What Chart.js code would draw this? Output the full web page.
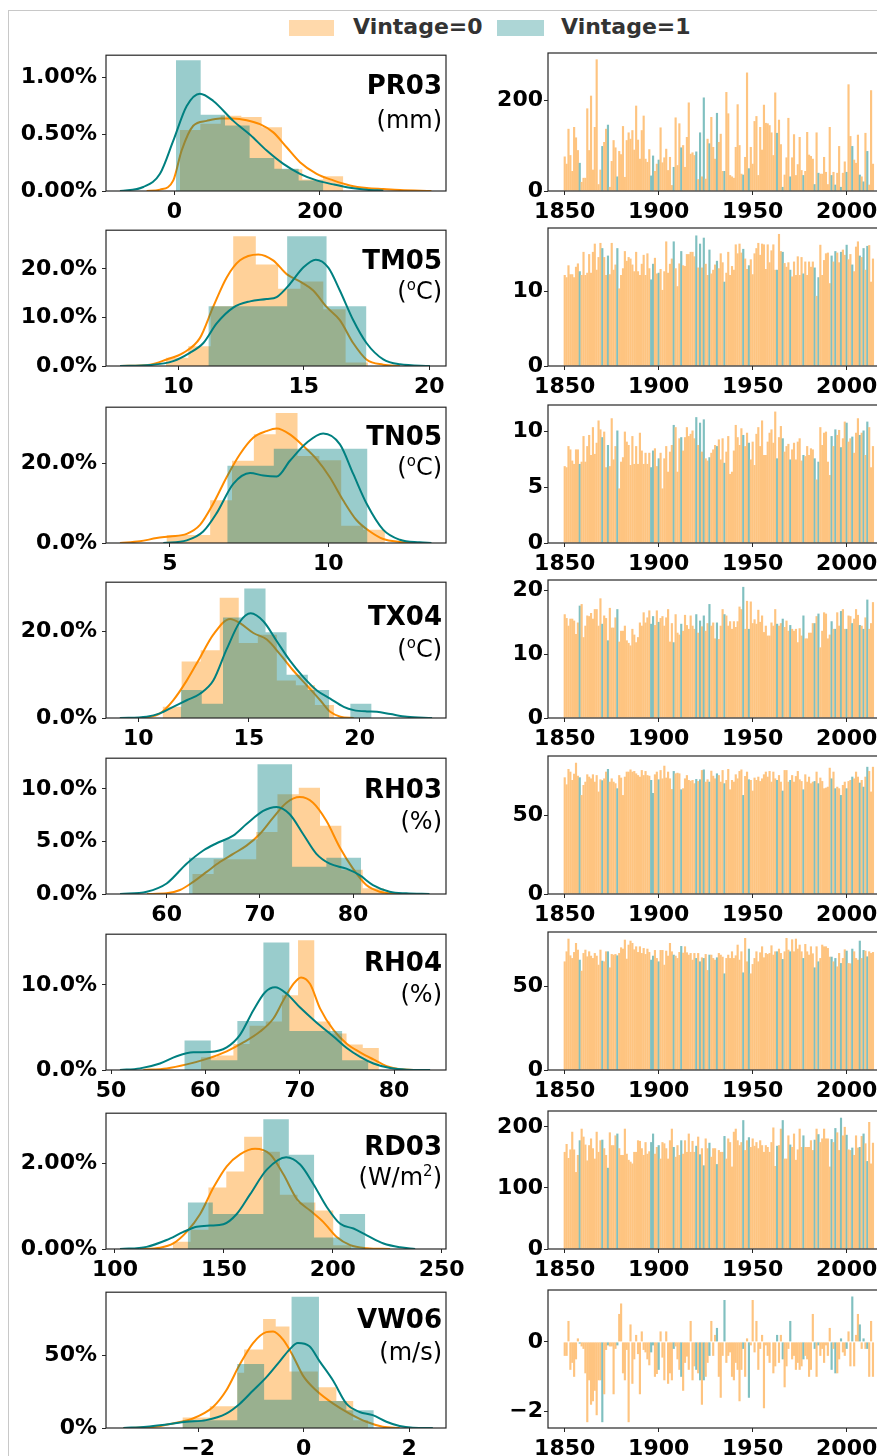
<!DOCTYPE html>
<html><head><meta charset="utf-8">
<script src="https://cdn.jsdelivr.net/npm/chart.js@4.4.0/dist/chart.umd.min.js"></script>
<style>
html,body{margin:0;padding:0;background:#fff;overflow:hidden;}
body{width:877px;height:1456px;position:relative;font-family:'DejaVu Sans',sans-serif;}
canvas{position:absolute;}
.frame{position:absolute;left:8px;top:10px;width:1100px;height:1700px;border:1px solid #c8c8c8;}
.lgp{position:absolute;height:16px;}
.lgt{position:absolute;font-size:22px;line-height:22px;font-weight:bold;color:#333;white-space:nowrap;}
.ttl{position:absolute;left:142px;width:300px;text-align:right;white-space:nowrap;color:#000;font-weight:bold;font-size:26px;line-height:26px;}
.unt{position:absolute;left:142px;width:300px;text-align:right;white-space:nowrap;color:#000;font-size:24px;line-height:24px;}
.unt sup{font-size:15px;line-height:0;vertical-align:9px;}
</style></head><body>
<div class="frame"></div>
<div class="lgp" style="left:289px;top:20px;width:45px;background:rgba(255,140,0,0.33)"></div>
<div class="lgt" style="left:353px;top:16px">Vintage=0</div>
<div class="lgp" style="left:497px;top:20px;width:47px;background:rgba(0,128,128,0.32)"></div>
<div class="lgt" style="left:561px;top:16px">Vintage=1</div>
<script>
// ---------------- DATA ----------------
const NAMES = ['PR03','TM05','TN05','TX04','RH03','RH04','RD03','VW06'];
const UNITS = ['(mm)','(<sup>o</sup>C)','(<sup>o</sup>C)','(<sup>o</sup>C)','(%)','(%)','(W/m<sup>2</sup>)','(m/s)'];
const YEAR0 = 1850; // first year of the time series (1850-2014)
const VINTAGE1_YEARS = [1858,1870,1873,1878,1896,1897,1900,1908,1912,1920,1922,1924,1927,1931,1935,1945,1948,1963,1966,1970,1977,1983,1985,1992,1994,1997,2000,2003,2007,2009,2011];

const TS_PR03 = [76,60,137,79,44,141,118,90,62,20, 29,29,182,90,210,47,141,290,15,47, 99,108,137,146,9,66,112,96,32,88, 81,143,31,112,129,115,134,91,188,113, 71,134,166,71,64,92,34,78,44,60, 69,140,63,74,93,46,75,13,53,162, 57,149,96,101,53,119,195,82,85,79, 87,26,129,32,206,27,115,105,163,97, 71,172,108,126,44,44,218,171,35,32, 29,97,191,101,38,36,75,261,50,97, 60,154,165,35,141,91,190,150,149,145, 129,79,217,128,157,103,9,36,74,161, 32,74,125,35,59,119,46,35,44,130, 80,77,71,15,129,40,38,38,75,42, 15,141,35,42,14,40,99,9,40,65, 42,235,121,99,69,62,124,36,32,21, 128,88,14,222,60];
const TS_TM05 = [12.2,11.9,13.5,12.3,12.3,11.9,13.3,13.75,12.7,12.2, 15.3,12.2,12.5,15.0,12.5,15.3,16.4,12.9,14.6,16.5, 15.8,14.6,12.2,14.8,12.3,16.5,12.9,13.6,15.8,10.4, 12.2,13.1,15.4,14.1,14.6,14.4,13.6,12.7,15.3,12.7, 12.2,13.7,14.9,12.2,15.1,13.1,11.6,13.7,14.5,12.4, 12.5,13.0,10.2,12.7,16.7,12.5,13.7,14.4,16.7,13.1, 10.7,13.75,15.4,13.5,13.4,15.0,15.0,15.3,15.3,14.7, 17.5,13.2,16.4,13.2,17.2,13.7,12.2,15.6,12.4,12.9, 13.6,14.1,13.1,15.1,13.9,11.3,12.5,15.3,12.2,13.4, 12.9,16.3,15.1,16.4,15.2,15.7,14.4,13.0,13.5,14.3, 12.3,15.1,15.8,16.5,14.9,16.4,16.3,13.0,16.3,13.9, 15.5,16.3,12.9,12.9,17.7,15.4,15.3,13.8,13.3,13.9, 12.9,12.0,14.0,12.2,14.7,12.2,14.6,12.4,14.0,12.2, 14.0,13.3,14.0,13.2,9.4,11.9,16.25,12.2,14.2,15.1, 15.2,11.1,14.8,14.0,15.4,15.2,13.9,15.3,15.6,14.9, 16.25,14.3,15.0,13.6,12.7,16.0,16.7,14.8,14.6,15.8, 12.9,16.1,16.2,11.3,14.4];
const TS_TN05 = [6.9,6.8,8.7,8.4,7.4,7.1,8.4,8.4,7.1,7.3, 9.6,7.3,8.7,9.7,7.9,10.4,8.0,9.0,11.0,10.2, 9.5,10.0,6.8,8.8,6.9,11.2,7.5,8.7,10.1,4.9, 7.3,7.7,10.0,9.1,8.8,7.0,9.6,7.1,8.7,7.1, 9.9,8.3,7.1,8.1,7.1,8.1,6.8,8.3,8.5,6.9, 7.6,8.1,4.9,7.6,8.7,6.4,8.2,8.8,10.6,10.4, 6.4,9.4,9.5,8.3,9.5,10.4,9.6,9.8,10.1,9.4, 11.3,8.8,10.8,8.2,11.1,7.6,7.4,7.7,8.1,8.4, 8.8,8.7,9.3,7.5,9.4,7.2,8.2,9.6,6.2,6.4, 8.3,10.6,9.5,8.8,10.3,9.7,8.7,9.9,9.0,7.5, 9.1,7.0,9.8,10.4,8.7,11.0,7.9,7.9,9.1,9.9, 10.2,9.0,11.8,7.6,9.5,10.5,9.4,8.2,8.7,8.9, 7.5,8.4,9.0,7.5,9.1,9.4,7.4,7.9,7.8,8.7, 7.9,8.5,8.4,7.6,5.7,7.3,10.4,8.8,9.9,10.0, 7.3,6.1,9.6,8.7,10.2,9.7,10.15,8.6,9.4,10.9, 10.8,9.1,9.4,9.55,8.1,9.9,11.2,9.7,9.9,10.1, 7.9,10.9,10.4,6.8,8.7];
const TS_TX04 = [16.3,15.7,14.5,15.6,15.6,15.3,13.2,15.0,17.65,17.9, 12.7,14.5,16.1,16.0,16.5,15.6,17.1,17.1,14.5,18.8, 14.8,16.1,15.7,12.2,17.3,14.2,14.2,15.8,17.1,12.0, 13.7,13.7,14.5,12.2,11.8,11.4,14.0,13.1,11.9,12.7, 15.0,14.5,16.6,15.0,15.8,16.9,14.8,16.0,14.6,16.9, 15.1,15.7,16.0,14.5,15.8,17.1,12.0,14.9,11.9,16.3, 13.4,13.1,14.8,13.7,16.2,14.6,14.0,16.1,14.5,14.0, 16.3,13.4,15.3,14.4,16.1,13.7,14.9,17.9,14.5,15.0, 12.5,15.0,12.4,14.5,17.1,16.3,16.1,14.5,15.2,14.0, 15.2,14.3,15.2,17.5,17.1,20.6,14.0,18.4,14.0,18.3, 14.9,15.5,14.8,17.0,15.1,16.1,13.5,14.5,12.95,12.95, 15.0,14.5,17.1,14.8,14.5,14.9,15.6,14.3,15.3,13.7, 14.6,14.0,13.7,14.0,11.9,14.1,12.95,16.1,12.5,12.5, 13.4,13.4,14.9,14.9,16.0,16.4,11.1,13.7,16.6,16.4, 12.5,13.1,15.2,14.0,14.0,16.6,14.5,16.8,17.1,14.0, 14.0,16.1,16.0,14.9,15.6,17.1,16.2,14.6,14.5,14.0, 15.8,18.6,14.0,14.9,18.2];
const TS_RH03 = [74.4,69.9,79.7,78.0,72.7,76.7,83.7,75.4,74.4,63.1, 69.5,71.6,76.3,74.8,73.7,76.3,71.6,75.8,65.3,73.1, 72.5,73.7,78.0,79.7,71.6,73.7,71.6,70.6,67.4,75.8, 74.2,63.1,74.8,78.0,78.0,79.4,78.0,78.4,76.9,75.8, 74.8,79.0,75.8,78.4,75.8,75.4,72.7,64.4,76.3,78.0, 73.1,79.0,73.7,81.8,74.2,78.0,73.7,66.9,78.4,76.9, 77.3,76.9,66.7,67.4,73.7,75.8,72.7,72.2,72.7,70.6, 73.3,72.0,73.1,79.0,79.4,71.6,73.1,71.6,78.6,75.4, 73.7,76.9,75.8,71.6,79.0,70.6,72.7,79.7,66.7,72.7, 71.6,76.3,73.7,78.4,79.4,63.1,75.2,78.0,73.1,72.7, 65.9,74.2,72.7,74.8,72.0,73.7,76.3,78.0,74.8,78.4, 71.6,78.0,73.7,72.7,75.8,71.6,65.9,79.0,79.0,71.6, 72.7,75.8,71.6,75.2,78.4,73.1,72.0,66.7,76.3,71.6, 74.8,70.6,71.6,72.0,78.0,70.6,74.2,72.0,67.4,67.8, 68.4,80.5,73.7,78.0,67.4,68.4,67.4,63.1,69.5,71.6, 67.4,72.0,72.7,74.8,73.7,78.0,74.8,71.0,72.7,68.4, 74.8,81.1,78.4,65.3,81.1];
const TS_RH04 = [65,71,78.6,68.6,67,70.6,76,72,66,59.4, 70,72,68,71,68.4,67,70,68.4,63,72, 65.4,65,71,71,61.4,69.4,69,69.4,68.6,70, 73.4,72.6,78,66.6,75,77.4,76,72.2,74,70.6, 74,70,73,69.4,72.6,70.6,66,68.4,71.8,67, 65,71.8,71.8,63,71.4,68.4,76,71,69,68.4, 67,70.6,74.2,70.2,74,70.4,69,70,66,70, 67,70,65,67.4,67,69.4,59.8,69,69,67, 66,67.4,70,69,67.8,57.8,67,69,67,71, 67,68.6,75,66,71,58.4,79,65,72.6,57.8, 63.4,67,71,65,70.4,74,67.4,70,69.4,70, 74.6,69,71,71,72.6,70,66.4,71,79,72, 71,78.2,71,78.6,72.6,75,71,67,75.4,71, 69,74,69.8,61.4,74,65,67,75,74,74, 73,67.8,67.8,65,67,62,70,64,67,72.2, 71.4,64,63.8,72.6,71,67,66,77.4,67,71.8, 71.4,68,71,70,70.6];
const TS_RD03 = [159,172,149,163,192,163,126,154,178,197, 184,171,145,170,181,165,148,192,159,178, 179,165,154,133,191,170,170,186,189,165, 154,154,197,156,146,143,140,159,159,178, 177,165,154,175,156,160,175,189,156,167, 170,148,175,173,165,148,178,197,167,151, 170,154,178,156,178,159,189,159,177,159, 169,184,155,165,137,181,165,174,151,165, 165,139,162,159,159,185,148,181,175,135, 192,197,178,170,175,211,162,178,183,167, 181,169,175,165,178,170,159,170,167,159, 175,199,136,169,170,197,211,148,148,186, 171,167,189,146,163,197,167,186,167,167, 167,178,162,179,197,188,175,181,197,181, 181,135,180,175,198,191,162,215,186,200, 187,163,162,166,154,186,166,167,185,189, 173,144,208,140,174];
const TS_VW06 = [-0.4,-0.4,0.6,-0.8,-0.6,-1.0,-0.5,0.1,-0.05,-0.13, -0.2,-0.9,-2.3,-1.1,-1.8,-1.7,-1.4,-2.1,-1.1,-1.1, -2.3,-1.5,-0.23,-0.1,-0.13,-0.13,-1.5,-0.2,-0.1,0.8, 1.1,-0.9,-1.1,-0.23,-2.3,0.5,-1.2,-0.5,0.2,-0.35, -1.5,0.3,-0.23,-0.3,-0.5,-0.67,-0.3,-0.1,-1.0,-0.92, -0.8,0.3,-0.45,-1.1,0.3,-1.2,-0.9,-1.1,-0.2,-0.13, -0.5,-0.8,-1.0,-1.4,-0.6,-0.42,-0.8,0.6,-1.1,-0.7, -0.8,-0.9,-1.1,-1.8,-1.1,-1.0,-0.6,-0.4,0.6,-0.4, 0.2,0.4,-1.0,-1.6,-0.4,1.2,-0.6,-0.4,-0.3,-1.0, -1.1,-0.6,-0.8,-1.7,-0.8,-0.2,-1.0,0.1,-1.6,-0.1, 1.2,-0.3,0.6,-0.8,-0.2,0.2,-1.9,-0.1,-0.4,-0.6, 0,-0.9,-0.7,0.2,-0.6,0.2,-0.5,-1.3,-0.7,-0.2, 0.6,-0.5,-0.4,-0.8,-0.6,-0.8,-0.7,-0.5,-0.4,-0.5, -1.0,-0.8,0.8,-0.2,-1.0,-0.1,-0.4,-0.2,-0.6,-0.1, -0.4,0.4,-0.8,-0.2,-0.9,-0.9,-0.5,0.1,-0.3,-0.4, -0.2,0.3,-0.7,1.3,-0.7,0.2,0.8,0.5,-0.2,0.1, -0.2,-0.2,-1.0,0.6,-1.0];

// Histogram bin edges / heights (density, %) for Vintage=0 (H0) and Vintage=1 (H1)
const PR03_H0_EDGES = [7.8,35.7,63.6,92.0,119.9,147.8,175.7,204.1,232.0];
const PR03_H0 = [0.535,0.59,0.66,0.65,0.56,0.19,0.10,0.13];
const PR03_H1_EDGES = [2.3,36.2,69.6,103.4,137.3,170.7,204.6];
const PR03_H1 = [1.148,0.669,0.575,0.29,0.195,0.093];
const TM05_H0_EDGES = [9.51,10.40,11.29,12.19,13.09,13.98,14.87,15.78,16.67,17.56];
const TM05_H0 = [1.7,4.05,12.3,26.7,20.9,15.9,17.4,11.7,0.7];
const TM05_H1_EDGES = [11.20,12.76,14.34,15.91,17.50];
const TM05_H1 = [12.3,12.3,26.7,12.3];
const TN05_H0_EDGES = [4.89,5.58,6.27,6.96,7.65,8.34,9.03,9.72,10.41,11.10,11.79];
const TN05_H0 = [2.0,2.0,10.7,20.6,27.2,32.5,21.8,20.7,4.3,3.3];
const TN05_H1_EDGES = [6.81,8.28,9.76,11.24];
const TN05_H1 = [19.3,23.6,23.6];
const TX04_H0_EDGES = [11.10,11.96,12.82,13.68,14.54,15.40,16.26,17.12,17.98,18.84];
const TX04_H0 = [2.6,13.1,15.7,27.9,17.4,19.3,8.7,7.6,3.0];
const TX04_H1_EDGES = [11.92,12.87,13.83,14.79,15.75,16.70,17.66,18.62,19.58,20.54];
const TX04_H1 = [6.5,3.3,23.3,30.0,19.9,10.0,6.5,0,3.3];
const RH03_H0_EDGES = [62.75,65.04,67.32,69.61,71.89,74.18,76.46,78.75,81.04,83.32];
const RH03_H0 = [1.9,3.3,3.3,5.9,9.5,10.1,6.5,2.3,0.55];
const RH03_H1_EDGES = [62.39,66.07,69.75,73.46,77.14,80.86];
const RH03_H1 = [3.45,5.2,12.35,2.6,3.45];
const RH04_H0_EDGES = [59.54,61.25,62.97,64.68,66.40,68.11,69.82,71.54,73.25,74.96,76.68,78.39];
const RH04_H0 = [1.5,1.7,3.05,5.2,5.7,8.8,15.25,5.7,4.3,3.0,2.6];
const RH04_H1_EDGES = [57.77,60.57,63.39,66.15,68.90,71.73,74.49,77.28];
const RH04_H1 = [3.47,1.16,5.75,15.0,4.6,4.6,1.16];
const RD03_H0_EDGES = [126.5,134.7,142.9,151.1,159.3,167.5,175.7,183.8,192.0,200.2,208.4];
const RD03_H0 = [0.17,0.45,1.44,1.82,2.63,2.28,1.27,1.09,0.9,0.09];
const RD03_H1_EDGES = [133.4,144.9,156.7,168.1,179.8,191.4,203.1,214.9];
const RD03_H1 = [1.09,0.82,0.82,3.04,2.21,0.27,0.82];
const VW06_H0_EDGES = [-2.30,-1.78,-1.26,-1.13,-0.77,-0.53,-0.27,0.27,0.62,0.94,1.22];
const VW06_H0 = [7.2,14.9,38,53.8,74.8,69.6,38.7,27.9,18.5,5.4];
const VW06_H1_EDGES = [-2.30,-1.78,-1.26,-0.75,-0.23,0.29,0.81,1.33];
const VW06_H1 = [5.4,5.4,44,19.4,90,18.5,12.2];

// KDE curves (x, density %)
const PR03_K0_X = [-38,-19.7,-1.4,10,26,44.4,62.7,81,99.3,117.6,135.9,154.2,172.5,195.4,218.3,241,264,287,310,353];
const PR03_K0_Y = [0,0.012,0.093,0.355,0.573,0.616,0.637,0.637,0.622,0.587,0.515,0.384,0.253,0.151,0.093,0.049,0.026,0.017,0.009,0];
const PR03_K1_X = [-74.6,-42.6,-19.7,-1.4,17,35.2,53.5,81,104,126.8,149.7,172.5,195.4,218.3,241,264,287];
const PR03_K1_Y = [0,0.035,0.151,0.442,0.747,0.855,0.791,0.616,0.494,0.355,0.238,0.151,0.093,0.058,0.029,0.012,0.003];
const TM05_K0_X = [7.68,8.87,9.54,10.2,10.86,11.39,11.93,12.46,13.19,13.78,14.32,14.91,15.38,15.91,16.44,16.97,17.5,18.17,18.83];
const TM05_K0_Y = [0,0.27,1.35,2.7,5.74,12.16,18.24,21.76,22.97,21.76,18.92,17.23,15.54,12.16,9.46,4.73,1.35,0.27,0];
const TM05_K1_X = [7.68,8.87,9.8,10.46,11.0,11.53,12.19,12.86,13.52,13.92,14.45,14.98,15.48,15.98,16.44,16.97,17.5,18.17,18.83,20.03];
const TM05_K1_Y = [0,0.2,1.01,2.7,4.73,8.78,12.03,13.31,13.78,14.19,16.89,20.27,21.89,20.27,15.54,9.46,4.73,1.35,0.34,0];
const TN05_K0_X = [3.42,4.05,4.58,5.0,5.53,5.95,6.37,6.79,7.21,7.63,8.05,8.37,8.79,9.21,9.63,10.05,10.47,10.89,11.32,11.74,12.26,12.68];
const TN05_K0_Y = [0,0.41,1.23,1.65,2.3,4.53,9.88,16.46,22.22,26.34,27.98,28.64,27.16,24.28,20.99,16.46,10.7,5.76,2.88,0.99,0.25,0];
const TN05_K1_X = [4.79,5.53,6.05,6.47,7.0,7.53,7.95,8.37,8.79,9.32,9.84,10.37,10.79,11.21,11.74,12.26,12.89,13.26];
const TN05_K1_Y = [0,0.66,2.88,7.41,14.81,17.53,16.87,16.63,20.58,25.1,27.41,24.69,17.28,9.88,3.29,0.82,0.16,0];
const TX04_K0_X = [10.23,10.98,11.58,12.19,12.79,13.39,14.15,14.6,15.2,15.81,16.41,17.01,17.62,18.22,18.67,19.13,19.73];
const TX04_K0_Y = [0,1.06,4.11,8.67,13.99,19.32,22.97,21.98,19.7,18.18,14.75,10.95,7.53,4.11,1.44,0.3,0];
const TX04_K1_X = [9.17,10.38,10.98,11.58,12.19,12.79,13.39,13.99,14.6,15.08,15.66,16.26,16.86,17.47,18.07,18.67,19.28,19.73,20.33,20.78,21.39,22.14,23.27];
const TX04_K1_Y = [0,0.3,1.06,2.59,4.11,5.63,8.67,15.89,22.36,24.26,22.36,17.79,13.23,9.43,6.39,4.49,2.59,1.83,1.52,1.44,0.91,0.3,0];
const RH03_K0_X = [57.9,60,61.43,62.86,64.29,65.71,67.14,68.57,70,71.43,72.86,74.29,75.71,77.14,78.57,80,81.43,82.86,85];
const RH03_K0_Y = [0,0.06,0.38,1.16,2.1,3.04,3.82,4.6,5.71,7.27,8.68,9.22,8.68,6.96,4.45,2.41,0.85,0.22,0];
const RH03_K1_X = [55,57.86,60,62.14,63.93,65.36,67.14,68.57,70.36,71.79,73.21,74.64,76.07,77.5,79.29,80.71,82.14,83.93,85.71,88.2];
const RH03_K1_Y = [0,0.22,1.0,2.88,4.14,4.83,5.55,6.65,7.9,8.28,7.59,5.71,3.82,2.88,2.41,1.79,0.85,0.22,0.06,0];
const RH04_K0_X = [53.43,55.9,58.02,60.14,62.26,64.03,65.8,67.21,68.27,69.33,70.14,71.1,72.16,73.57,74.98,76.4,77.81,79.22,80.64,82.05];
const RH04_K0_Y = [0,0.19,0.66,1.31,2.2,3.24,4.52,6.06,8.19,10.12,10.89,10.12,7.22,4.71,3.09,2.08,1.24,0.46,0.08,0];
const RH04_K1_X = [50.95,53.07,55.19,56.96,58.73,60.49,62.26,63.67,65.09,66.33,67.39,68.62,70.04,71.8,73.57,74.98,76.4,77.81,79.58,81.34,83.82];
const RH04_K1_Y = [0,0.19,0.77,1.62,2.08,2.12,2.66,4.13,7.03,9.15,9.73,8.96,7.34,5.56,3.94,2.59,1.54,0.77,0.23,0.04,0];
const RD03_K0_X = [111.5,120.7,126.8,132.9,139.1,145.2,151.3,157.4,164.3,171.2,177.3,183.5,189.6,195.7,201.8,208,215.6,226.3];
const RD03_K0_Y = [0,0.03,0.13,0.4,0.82,1.44,1.94,2.22,2.35,2.22,1.75,1.17,0.9,0.63,0.28,0.09,0.02,0];
const RD03_K1_X = [102.3,114.5,123.7,131.4,137.5,143.6,149.8,155.9,162,169.7,178.6,185,191.1,197.3,203.4,209.5,215.6,223.3,230.9,237.8];
const RD03_K1_Y = [0,0.05,0.21,0.4,0.52,0.55,0.58,0.82,1.28,1.86,2.15,1.98,1.52,0.98,0.59,0.48,0.32,0.13,0.04,0];
const VW06_K0_X = [-3.42,-2.92,-2.48,-2.10,-1.72,-1.47,-1.21,-0.96,-0.71,-0.58,-0.39,-0.2,-0.01,0.24,0.56,0.87,1.19,1.5,1.82];
const VW06_K0_Y = [0,0.45,3.15,6.53,14.4,25.7,43.7,58.3,65.8,66.2,60.6,49.3,35.8,25.7,16.7,9.9,4.28,0.9,0];
const VW06_K1_X = [-3.42,-2.98,-2.60,-2.22,-1.85,-1.47,-1.21,-0.96,-0.71,-0.45,-0.27,-0.11,0.11,0.30,0.56,0.81,1.06,1.31,1.57,1.82,2.07,2.45];
const VW06_K1_Y = [0,0.9,2.48,4.28,5.4,9.9,16.7,25.7,34.7,45.9,53.8,58.3,56.1,45.9,32.4,16.7,11.0,8.8,4.3,1.35,0.23,0];

// Tick labels
const LEFT_X_TICKS = [[0,200],[10,15,20],[5,10],[10,15,20],[60,70,80],[50,60,70,80],[100,150,200,250],[-2,0,2]];
const LEFT_Y_TICKS = [[0,0.5,1.0],[0,10,20],[0,20],[0,20],[0,5,10],[0,10],[0,2],[0,50]];
const LEFT_Y_DEC = [2,1,1,1,1,1,2,0];
const RIGHT_X_TICKS = [1850,1900,1950,2000];
const RIGHT_Y_TICKS = [[0,200],[0,10],[0,5,10],[0,10,20],[0,50],[0,50],[0,100,200],[-2,0]];

// ---------------- LAYOUT / STYLE ----------------
const AX_TOP = [53,228,405,580,756,932,1111,1290];
const AX_H = 138;
const LEFT_XRANGE = [[-93.8,373],[7.12,20.67],[2.98,13.72],[8.545,23.9],[53.49,89.98],[49.47,85.5],[95.87,251.97],[-3.75,2.70]];
const LEFT_YMAX = [1.193,27.96,33.98,31.48,12.92,15.97,3.184,93.2];
const RIGHT_YRANGE = [[0,304],[0,18.5],[0,12.39],[0,21.68],[0,88],[0,82.6],[0,226],[-2.466,1.486]];
const TITLE_BASE = [93.5,269,445,625,798,971,1155,1328];
const UNIT_BASE = [128,299,475,657,829,1002,1185,1360];

const ORANGE = '#ff8c00', TEAL = '#008080';
const ORANGE_FILL = 'rgba(255,140,0,0.4)', TEAL_FILL = 'rgba(0,128,128,0.4)';
const ORANGE_BAR = '#fec480', TEAL_BAR = '#80c0c0';
const TICK_FONT = {family:'DejaVu Sans', size:22, weight:'bold'};
const PAD_TOP = 16, XAX_H = 34;

const HISTS = [
  [PR03_H0_EDGES,PR03_H0,PR03_H1_EDGES,PR03_H1,PR03_K0_X,PR03_K0_Y,PR03_K1_X,PR03_K1_Y],
  [TM05_H0_EDGES,TM05_H0,TM05_H1_EDGES,TM05_H1,TM05_K0_X,TM05_K0_Y,TM05_K1_X,TM05_K1_Y],
  [TN05_H0_EDGES,TN05_H0,TN05_H1_EDGES,TN05_H1,TN05_K0_X,TN05_K0_Y,TN05_K1_X,TN05_K1_Y],
  [TX04_H0_EDGES,TX04_H0,TX04_H1_EDGES,TX04_H1,TX04_K0_X,TX04_K0_Y,TX04_K1_X,TX04_K1_Y],
  [RH03_H0_EDGES,RH03_H0,RH03_H1_EDGES,RH03_H1,RH03_K0_X,RH03_K0_Y,RH03_K1_X,RH03_K1_Y],
  [RH04_H0_EDGES,RH04_H0,RH04_H1_EDGES,RH04_H1,RH04_K0_X,RH04_K0_Y,RH04_K1_X,RH04_K1_Y],
  [RD03_H0_EDGES,RD03_H0,RD03_H1_EDGES,RD03_H1,RD03_K0_X,RD03_K0_Y,RD03_K1_X,RD03_K1_Y],
  [VW06_H0_EDGES,VW06_H0,VW06_H1_EDGES,VW06_H1,VW06_K0_X,VW06_K0_Y,VW06_K1_X,VW06_K1_Y]
];
const SERIES = [TS_PR03,TS_TM05,TS_TN05,TS_TX04,TS_RH03,TS_RH04,TS_RD03,TS_VW06];

const boxPlugin = {id:'box', afterDraw(c){const a=c.chartArea, g=c.ctx; g.save(); g.strokeStyle='#262626'; g.lineWidth=1.2; g.strokeRect(a.left,a.top,a.right-a.left,a.bottom-a.top); g.restore();}};
const minus = v => (v<0 ? '\u2212'+Math.abs(v) : String(v));
const zip = (xs,ys) => xs.map((x,i)=>({x:x,y:ys[i]}));
function steps(edges, h){ const p = h.map((v,i)=>({x:edges[i],y:v})); p.push({x:edges[edges.length-1],y:0}); return p; }
function mkCanvas(left, top, w, h){ const c=document.createElement('canvas'); c.width=w; c.height=h; c.style.left=left+'px'; c.style.top=top+'px'; document.body.appendChild(c); return c; }
function axis(min,max,ticks,fmt,afterFit,pad,extra){
  return Object.assign({type:'linear',min:min,max:max,offset:false,
    afterBuildTicks:s=>{s.ticks=ticks.map(v=>({value:v}));},
    afterFit:afterFit,
    ticks:{font:TICK_FONT,color:'#000',padding:pad,maxRotation:0,minRotation:0,autoSkip:false,callback:fmt},
    grid:{drawOnChartArea:false,drawTicks:true,tickLength:4,color:'#262626',lineWidth:1,offset:false},
    border:{display:false}}, extra||{});
}
const baseOpts = {animation:false,responsive:false,devicePixelRatio:1,plugins:{legend:{display:false},tooltip:{enabled:false}}};

for (let i=0;i<8;i++){
  const [e0,h0,e1,h1,kx0,ky0,kx1,ky1] = HISTS[i];
  // left panel: histogram + kde
  const cl = mkCanvas(0, AX_TOP[i]-PAD_TOP, 480, PAD_TOP+AX_H+XAX_H);
  const dec = LEFT_Y_DEC[i];
  new Chart(cl, {
    type:'line',
    data:{datasets:[
      {data:zip(kx1,ky1),borderColor:TEAL,borderWidth:2,pointRadius:0,cubicInterpolationMode:'monotone',fill:false},
      {data:steps(e1,h1),stepped:'before',fill:'origin',backgroundColor:TEAL_FILL,borderColor:'rgba(0,0,0,0)',borderWidth:0,pointRadius:0},
      {data:zip(kx0,ky0),borderColor:ORANGE,borderWidth:2,pointRadius:0,cubicInterpolationMode:'monotone',fill:false},
      {data:steps(e0,h0),stepped:'before',fill:'origin',backgroundColor:ORANGE_FILL,borderColor:'rgba(0,0,0,0)',borderWidth:0,pointRadius:0}
    ]},
    options:Object.assign({},baseOpts,{
      layout:{padding:{top:PAD_TOP,right:34,left:0,bottom:0}},
      scales:{
        x:axis(LEFT_XRANGE[i][0],LEFT_XRANGE[i][1],LEFT_X_TICKS[i],minus,s=>{s.height=XAX_H;},4),
        y:axis(0,LEFT_YMAX[i],LEFT_Y_TICKS[i],v=>v.toFixed(dec)+'%',s=>{s.width=106;},5)
      }
    }),
    plugins:[boxPlugin]
  });
  // right panel: yearly bars
  const ts = SERIES[i];
  const cr = mkCanvas(480, AX_TOP[i]-PAD_TOP, 408, PAD_TOP+AX_H+XAX_H);
  new Chart(cr, {
    type:'bar',
    data:{datasets:[{
      data:ts.map((v,k)=>({x:YEAR0+k,y:v})),
      backgroundColor:ts.map((v,k)=>VINTAGE1_YEARS.includes(YEAR0+k)?TEAL_BAR:ORANGE_BAR),
      borderWidth:0,barPercentage:1.15,categoryPercentage:1
    }]},
    options:Object.assign({},baseOpts,{
      layout:{padding:{top:PAD_TOP,right:0,left:0,bottom:0}},
      scales:{
        x:axis(1841.1,2022,RIGHT_X_TICKS,v=>String(v),s=>{s.height=XAX_H;},4),
        y:axis(RIGHT_YRANGE[i][0],RIGHT_YRANGE[i][1],RIGHT_Y_TICKS[i],minus,s=>{s.width=68;},1)
      }
    }),
    plugins:[boxPlugin]
  });
  // panel labels
  const t=document.createElement('div'); t.className='ttl'; t.style.top=(TITLE_BASE[i]-22)+'px'; t.textContent=NAMES[i]; document.body.appendChild(t);
  const u=document.createElement('div'); u.className='unt'; u.style.top=(UNIT_BASE[i]-20)+'px'; u.innerHTML=UNITS[i]; document.body.appendChild(u);
}
</script>
</body></html>
